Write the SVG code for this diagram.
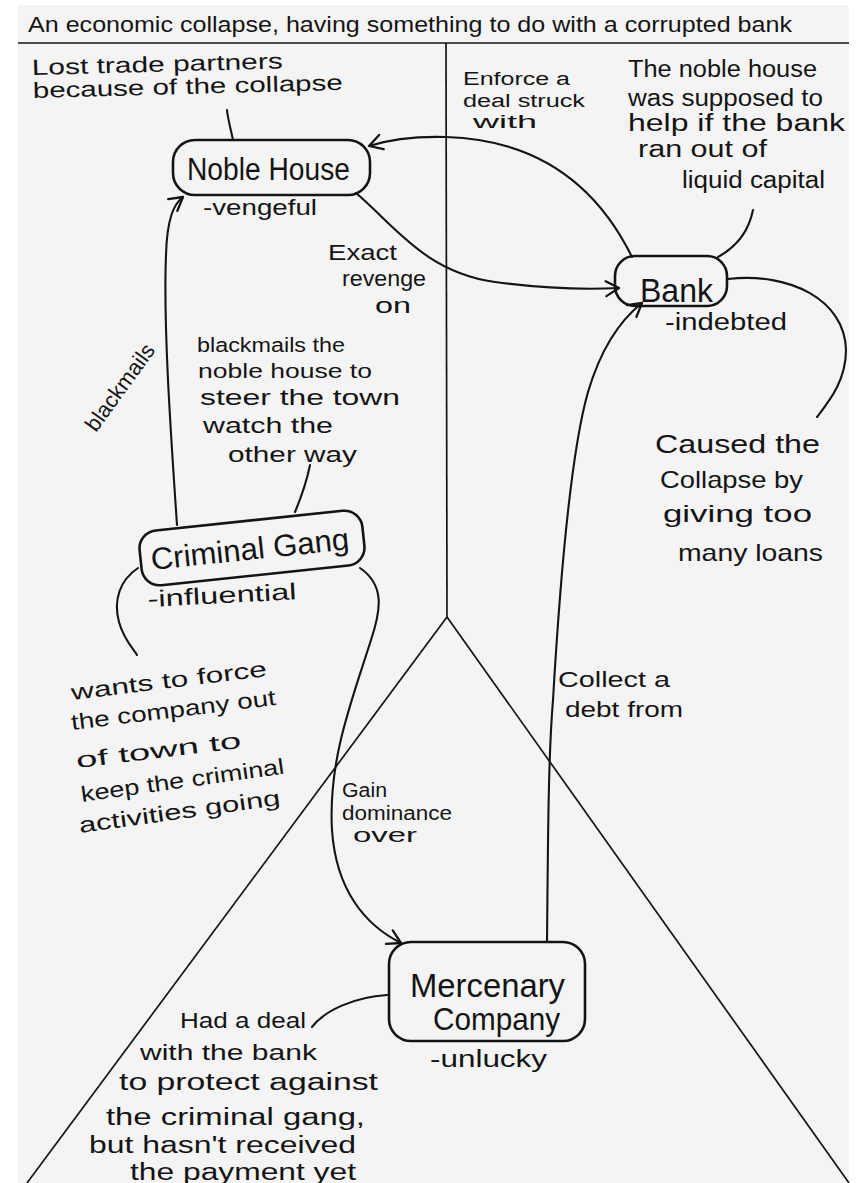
<svg xmlns="http://www.w3.org/2000/svg" width="866" height="1183" viewBox="0 0 866 1183">
<style>
  text { font-family: "Liberation Sans", "DejaVu Sans", Arial, sans-serif; fill: #141414; }
  .box { fill: none; stroke: #141414; stroke-width: 2.6; }
  .conn { fill: none; stroke: #141414; stroke-width: 2.1; stroke-linecap: round; }
  .call { fill: none; stroke: #141414; stroke-width: 2.1; stroke-linecap: round; }
  .frame { fill: none; stroke: #141414; stroke-width: 1.7; }
  .t18 { font-size: 18px; }
  .t20 { font-size: 20px; }
  .t22 { font-size: 22px; }
  .t23 { font-size: 23px; }
  .t24 { font-size: 24px; }
  .t26 { font-size: 26px; }
  .big { font-size: 31px; }
</style>
<defs>
  <marker id="arrow" markerUnits="userSpaceOnUse" markerWidth="18" markerHeight="18" viewBox="0 0 18 18" refX="16" refY="9" orient="auto">
    <path d="M3 1.5 L16 9 L3 16.5" fill="none" stroke="#141414" stroke-width="2.3" stroke-linecap="round" stroke-linejoin="round"/>
  </marker>
</defs>

<rect x="0" y="0" width="866" height="1183" fill="#ffffff"/>
<rect x="18" y="5" width="831" height="1178" fill="#f4f4f4"/>

<g id="frame">
  <text x="28" y="32" font-size="22" textLength="764" lengthAdjust="spacingAndGlyphs">An economic collapse, having something to do with a corrupted bank</text>
  <line class="frame" x1="18" y1="43" x2="849" y2="43"/>
  <line class="frame" x1="446" y1="43" x2="447" y2="617"/>
  <line class="frame" x1="447" y1="617" x2="27" y2="1183"/>
  <line class="frame" x1="447" y1="617" x2="849" y2="1183"/>
</g>

<g id="connectors">
  <path class="conn" marker-end="url(#arrow)" d="M632 257 C600 192, 545 140, 446 137 C410 136, 388 140, 369 146"/>
  <path class="conn" marker-end="url(#arrow)" d="M356 193 C395 226, 425 272, 495 282 C540 288, 580 290, 619 288"/>
  <path class="conn" marker-end="url(#arrow)" d="M177 525 C172 450, 163 330, 166 255 C167 218, 174 204, 183 197"/>
  <path class="conn" marker-end="url(#arrow)" d="M360 568 C385 585, 381 610, 371 640 C352 700, 328 760, 332 830 C336 890, 365 925, 401 943"/>
  <path class="conn" marker-end="url(#arrow)" d="M547 942 C548 850, 548 760, 553 700 C560 580, 570 455, 588 392 C602 345, 623 318, 642 303"/>
  <g id="edge-labels">
    <text class="t18" x="463" y="85" textLength="107" lengthAdjust="spacingAndGlyphs">Enforce a</text>
    <text class="t18" x="463" y="107" textLength="122" lengthAdjust="spacingAndGlyphs">deal struck</text>
    <text class="t18" x="473" y="128" textLength="64" lengthAdjust="spacingAndGlyphs">with</text>
    <text class="t22" x="328" y="260" textLength="69" lengthAdjust="spacingAndGlyphs">Exact</text>
    <text class="t22" x="342" y="286" textLength="84" lengthAdjust="spacingAndGlyphs">revenge</text>
    <text class="t22" x="375" y="313" textLength="36" lengthAdjust="spacingAndGlyphs">on</text>
    <text class="t22" x="96" y="433" textLength="102" lengthAdjust="spacingAndGlyphs" transform="rotate(-54 96 433)">blackmails</text>
    <text class="t20" x="342" y="797" textLength="45" lengthAdjust="spacingAndGlyphs">Gain</text>
    <text class="t20" x="342" y="820" textLength="110" lengthAdjust="spacingAndGlyphs">dominance</text>
    <text class="t20" x="353" y="842" textLength="64" lengthAdjust="spacingAndGlyphs">over</text>
    <text class="t22" x="558" y="687" textLength="112" lengthAdjust="spacingAndGlyphs">Collect a</text>
    <text class="t22" x="565" y="717" textLength="118" lengthAdjust="spacingAndGlyphs">debt from</text>
  </g>
</g>

<g id="noble-house">
  <rect class="box" x="173" y="140" width="197" height="55" rx="22"/>
  <text class="big" x="187" y="180" textLength="163" lengthAdjust="spacingAndGlyphs">Noble House</text>
  <text class="t22" x="203" y="215" textLength="114" lengthAdjust="spacingAndGlyphs">-vengeful</text>
</g>

<g id="bank">
  <rect class="box" x="615" y="256" width="112" height="50" rx="20"/>
  <text x="640" y="302" font-size="34" textLength="73" lengthAdjust="spacingAndGlyphs">Bank</text>
  <text class="t23" x="665" y="330" textLength="122" lengthAdjust="spacingAndGlyphs">-indebted</text>
</g>

<g id="criminal-gang">
  <rect class="box" x="140" y="520.5" width="224" height="55" rx="18" transform="rotate(-6 252 548)"/>
  <text class="big" x="152" y="570" textLength="199" lengthAdjust="spacingAndGlyphs" transform="rotate(-6 152 570)">Criminal Gang</text>
  <text class="t23" x="148" y="607" textLength="149" lengthAdjust="spacingAndGlyphs" transform="rotate(-3 148 607)">-influential</text>
</g>

<g id="mercenary-company">
  <rect class="box" x="389" y="942" width="196" height="99" rx="22"/>
  <text x="410" y="997" font-size="34" textLength="155" lengthAdjust="spacingAndGlyphs">Mercenary</text>
  <text x="433" y="1030" font-size="32" textLength="127" lengthAdjust="spacingAndGlyphs">Company</text>
  <text class="t23" x="430" y="1067" textLength="117" lengthAdjust="spacingAndGlyphs">-unlucky</text>
</g>

<g id="note-noble-house">
  <path class="call" d="M227 110 C228 120, 231 130, 233 140"/>
  <text class="t22" x="32" y="75" textLength="251" lengthAdjust="spacingAndGlyphs" transform="rotate(-1.5 32 75)">Lost trade partners</text>
  <text class="t22" x="33" y="98" textLength="310" lengthAdjust="spacingAndGlyphs" transform="rotate(-1.5 33 98)">because of the collapse</text>
</g>

<g id="note-bank-help">
  <path class="call" d="M753 210 C749 230, 738 246, 718 257"/>
  <text class="t23" x="628" y="77" textLength="189" lengthAdjust="spacingAndGlyphs">The noble house</text>
  <text class="t23" x="628" y="106" textLength="195" lengthAdjust="spacingAndGlyphs">was supposed to</text>
  <text class="t23" x="628" y="131" textLength="217" lengthAdjust="spacingAndGlyphs">help if the bank</text>
  <text class="t23" x="638" y="157" textLength="129" lengthAdjust="spacingAndGlyphs">ran out of</text>
  <text class="t23" x="682" y="188" textLength="143" lengthAdjust="spacingAndGlyphs">liquid capital</text>
</g>

<g id="note-bank-collapse">
  <path class="call" d="M728 279 C790 272, 845 300, 846 350 C846 380, 830 400, 817 417"/>
  <text class="t26" x="655" y="453" textLength="165" lengthAdjust="spacingAndGlyphs">Caused the</text>
  <text class="t24" x="660" y="488" textLength="143" lengthAdjust="spacingAndGlyphs">Collapse by</text>
  <text class="t24" x="663" y="522" textLength="149" lengthAdjust="spacingAndGlyphs">giving too</text>
  <text class="t24" x="678" y="561" textLength="145" lengthAdjust="spacingAndGlyphs">many loans</text>
</g>

<g id="note-gang-blackmail">
  <path class="call" d="M310 465 C306 485, 300 500, 295 512"/>
  <text class="t20" x="197" y="352" textLength="148" lengthAdjust="spacingAndGlyphs">blackmails the</text>
  <text class="t20" x="198" y="378" textLength="174" lengthAdjust="spacingAndGlyphs">noble house to</text>
  <text class="t22" x="200" y="405" textLength="200" lengthAdjust="spacingAndGlyphs">steer the town</text>
  <text class="t22" x="203" y="433" textLength="130" lengthAdjust="spacingAndGlyphs">watch the</text>
  <text class="t22" x="228" y="462" textLength="129" lengthAdjust="spacingAndGlyphs">other way</text>
</g>

<g id="note-gang-force">
  <path class="call" d="M138 568 C120 580, 113 600, 119 622 C124 640, 133 648, 137 655"/>
  <text class="t22" x="72" y="700" textLength="197" lengthAdjust="spacingAndGlyphs" transform="rotate(-7 72 700)">wants to force</text>
  <text class="t22" x="72" y="730" textLength="206" lengthAdjust="spacingAndGlyphs" transform="rotate(-7 72 730)">the company out</text>
  <text class="t22" x="77" y="768" textLength="166" lengthAdjust="spacingAndGlyphs" transform="rotate(-7 77 768)">of town to</text>
  <text class="t22" x="82" y="802" textLength="205" lengthAdjust="spacingAndGlyphs" transform="rotate(-8 82 802)">keep the criminal</text>
  <text class="t22" x="80" y="833" textLength="203" lengthAdjust="spacingAndGlyphs" transform="rotate(-8 80 833)">activities going</text>
</g>

<g id="note-mercenary">
  <path class="call" d="M387 995 C355 997, 325 1010, 312 1027"/>
  <text class="t22" x="180" y="1028" textLength="126" lengthAdjust="spacingAndGlyphs">Had a deal</text>
  <text class="t22" x="140" y="1060" textLength="177" lengthAdjust="spacingAndGlyphs">with the bank</text>
  <text class="t23" x="119" y="1090" textLength="259" lengthAdjust="spacingAndGlyphs">to protect against</text>
  <text class="t23" x="106" y="1125" textLength="259" lengthAdjust="spacingAndGlyphs">the criminal gang,</text>
  <text class="t23" x="89" y="1153" textLength="267" lengthAdjust="spacingAndGlyphs">but hasn't received</text>
  <text class="t23" x="130" y="1180" textLength="226" lengthAdjust="spacingAndGlyphs">the payment yet</text>
</g>
</svg>
